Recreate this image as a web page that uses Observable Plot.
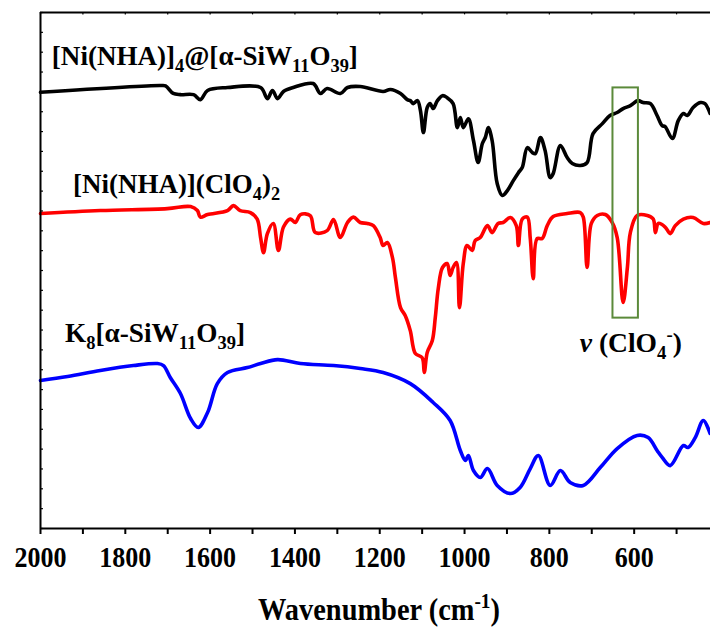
<!DOCTYPE html>
<html>
<head>
<meta charset="utf-8">
<script src="https://cdn.jsdelivr.net/npm/d3@7"></script>
<script src="https://cdn.jsdelivr.net/npm/@observablehq/plot@0.6"></script>
<style>
  body { margin: 0; background: #fff; }
  #chart svg { display: block; }
</style>
</head>
<body>
<div id="chart"></div>
<script>
// FT-IR spectra (offset transmittance, a.u.) against wavenumber in cm-1

// [Ni(NHA)]4@[α-SiW11O39]
const hybridWn = [2000,1717,1705,1687,1670,1639,1623,1606,1559,1481,1465,1453,1441,1427,1404,1357,1340,1324,1293,1276,1246,1192,1175,1151,1135,1128,1121,1111,1104,1097,1088,1081,1074,1064,1052,1041,1027,1017,1010,1003,991,979,968,958,951,944,935,923,911,899,885,873,864,852,840,833,821,810,798,791,774,758,746,727,711,697,675,657,640,626,609,591,579,562,546,534,527,510,496,484,475,461,444,433,421];
const hybridT = [21.98,22.32,22.3,21.92,21.86,21.86,21.61,22.07,22.22,22.22,21.66,22.07,21.66,22.02,22.22,22.42,21.92,22.17,21.92,22.22,22.27,22.02,22.12,21.92,21.61,21.56,21.41,21.56,21.06,19.95,21.21,21.41,21.16,21.56,21.81,21.71,21.41,20.20,20.71,20.20,20.65,19.55,18.44,19.40,19.70,20.20,19.55,17.38,16.78,17.03,17.53,17.93,18.19,19.19,18.94,18.89,19.70,19.04,17.68,17.88,19.30,18.69,18.39,18.29,18.44,19.90,20.40,20.81,20.96,21.16,21.31,21.56,21.46,21.41,20.81,20.30,20.25,19.65,20.55,20.91,20.81,21.21,21.46,21.41,20.91];

// [Ni(NHA)](ClO4)2
const complexWn = [2000,1859,1701,1646,1630,1623,1606,1559,1545,1529,1505,1489,1481,1474,1465,1451,1439,1427,1411,1399,1387,1364,1352,1324,1309,1293,1276,1262,1246,1229,1215,1199,1192,1182,1170,1163,1151,1140,1128,1116,1100,1095,1088,1076,1069,1062,1052,1041,1034,1027,1019,1012,1003,994,982,975,963,946,935,921,909,892,878,873,864,852,845,838,829,817,805,791,758,727,720,711,701,687,668,652,640,626,616,609,593,569,555,550,543,527,515,503,484,461,437,421];
const complexT = [15.87,16.02,16.12,16.22,16.02,15.69,15.82,16.02,16.27,16.02,15.92,15.59,14.66,13.90,14.86,15.37,14.01,15.19,15.59,15.42,15.82,15.77,14.91,15.01,15.57,14.66,15.42,15.69,15.42,15.37,15.26,14.66,14.26,14.41,13.65,12.64,11.13,10.73,9.97,8.82,8.61,7.86,8.87,9.47,10.63,12.09,13.15,13.35,12.75,13.15,13.40,11.13,13.35,14.26,14.01,14.51,14.66,15.26,14.91,15.37,15.42,15.67,15.26,14.26,15.59,15.69,14.61,12.59,14.61,14.61,15.26,15.72,15.87,15.92,15.69,13.15,15.37,15.77,15.82,15.42,14.66,11.39,13.15,14.91,15.77,15.77,15.59,14.91,15.37,15.19,14.86,15.26,15.59,15.67,15.37,15.42];

// K8[α-SiW11O39]
const lacunaryWn = [2000,1936,1859,1781,1724,1710,1694,1670,1646,1628,1606,1583,1559,1512,1481,1441,1387,1309,1246,1192,1128,1074,1034,1010,998,991,979,963,946,923,892,869,845,826,798,774,751,720,680,640,593,567,546,534,515,484,473,456,437,421];
const lacunaryT = [7.46,7.66,7.96,8.21,8.31,8.21,7.61,6.80,5.54,5.09,5.84,7.30,7.86,8.11,8.31,8.51,8.31,8.21,8.06,7.86,7.30,6.35,5.44,3.93,3.43,3.68,2.92,2.57,3.02,2.17,1.76,2.07,3.02,3.68,2.17,2.92,2.32,2.17,3.07,4.03,4.69,4.58,3.93,3.58,3.17,4.18,4.08,4.58,5.44,4.79];

const seriesNames = ["hybrid", "complex", "lacunary"];
const seriesColors = ["#000000", "#ff0000", "#0000ff"];

// perchlorate band highlighted by the box
const boxWn = [650, 590];
const boxT = [10.6, 22.2];

// axis ticks
const xTickValues = d3.range(2000, 499, -100);
const yTickValues = d3.range(0, 27, 1);

// labels: text runs with sub/superscripts, anchored in data coordinates
const seriesLabels = [
  [["[Ni(NHA)]", ""], ["4", "sub"], ["@[α-SiW", ""], ["11", "sub"], ["O", ""], ["39", "sub"], ["]", ""]],
  [["[Ni(NHA)](ClO", ""], ["4", "sub"], [")", ""], ["2", "sub"]],
  [["K", ""], ["8", "sub"], ["[α-SiW", ""], ["11", "sub"], ["O", ""], ["39", "sub"], ["]", ""]],
  [["ν", "it"], [" (ClO", ""], ["4", "sub"], ["-", "sup"], [")", ""]]
];
const labelWn = [1972, 1922, 1941, 727];
const labelT = [23.32, 16.88, 9.37, 8.87];
const labelWidths = [306, 207, 180, 102];
const axisTitle = [["Wavenumber (cm", ""], ["-1", "sup"], [")", ""]];

const rows = [
  ...hybridWn.map((w, i) => ({series: "hybrid", wn: w, t: hybridT[i]})),
  ...complexWn.map((w, i) => ({series: "complex", wn: w, t: complexT[i]})),
  ...lacunaryWn.map((w, i) => ({series: "lacunary", wn: w, t: lacunaryT[i]}))
];

const serif = "Liberation Serif, Times New Roman, DejaVu Serif, serif";

const plot = Plot.plot({
  width: 710,
  height: 630,
  marginLeft: 40,
  marginRight: 0,
  marginTop: 12,
  marginBottom: 102,
  style: {fontFamily: serif, background: "#fff", overflow: "visible"},
  x: {domain: [2000, 420]},
  y: {domain: [0, 26], axis: null},
  color: {domain: seriesNames, range: seriesColors},
  marks: [
    Plot.line(rows, {x: "wn", y: "t", z: "series", stroke: "series", strokeWidth: 3.6, curve: "catmull-rom"}),
    Plot.rect([{x1: boxWn[0], x2: boxWn[1], y1: boxT[0], y2: boxT[1]}], {x1: "x1", x2: "x2", y1: "y1", y2: "y2", fill: "none", stroke: "#5b8a3a", strokeWidth: 2}),
    // frame: left, bottom, top
    Plot.ruleX([2000], {strokeWidth: 2}),
    Plot.ruleY([0, 26], {strokeWidth: 2}),
    // inward minor ticks on the left and top edges
    Plot.ruleY(yTickValues, {x1: 2000, x2: 1993, strokeWidth: 1.2}),
    Plot.ruleX(xTickValues, {y1: 26, y2: 25.88, strokeWidth: 1.2}),
    Plot.axisX(xTickValues, {
      anchor: "bottom",
      tickSize: 6,
      tickPadding: 12,
      strokeWidth: 2,
      tickFormat: d => (d % 200 === 0 ? String(d) : ""),
      fontSize: 29,
      fontWeight: "bold",
      fontFamily: serif,
      fill: "#000",
      label: null
    })
  ]
});

document.getElementById("chart").appendChild(plot);

const svg = d3.select(plot);
svg.selectAll("g[aria-label='x-axis tick label'] text").each(function () {
  const s = this.textContent;
  if (s.length) d3.select(this).attr("textLength", s.length * 13).attr("lengthAdjust", "spacingAndGlyphs");
});

function richText(parent, parts, x, y, size, width, anchor) {
  const t = parent.append("text")
    .attr("x", x).attr("y", y)
    .attr("text-anchor", anchor)
    .attr("font-family", serif)
    .attr("font-size", size)
    .attr("font-weight", "bold")
    .attr("fill", "#000");
  let shift = 0;
  for (const [s, kind] of parts) {
    const target = kind === "sub" ? size * 0.25 : kind === "sup" ? -size * 0.38 : 0;
    t.append("tspan")
      .attr("dy", target - shift)
      .attr("font-size", kind === "sub" || kind === "sup" ? size * 0.68 : size)
      .attr("font-style", kind === "it" ? "italic" : null)
      .text(s);
    shift = target;
  }
  if (width) t.attr("textLength", width).attr("lengthAdjust", "spacingAndGlyphs");
  return t;
}

const xs = plot.scale("x"), ys = plot.scale("y");
const g = svg.append("g").attr("aria-label", "labels");
seriesLabels.forEach((parts, i) => {
  richText(g, parts, xs.apply(labelWn[i]), ys.apply(labelT[i]), 28, labelWidths[i], "start");
});
richText(g, axisTitle, (40 + 710) / 2 + 4, 620, 31, 242, "middle");
</script>
</body>
</html>
